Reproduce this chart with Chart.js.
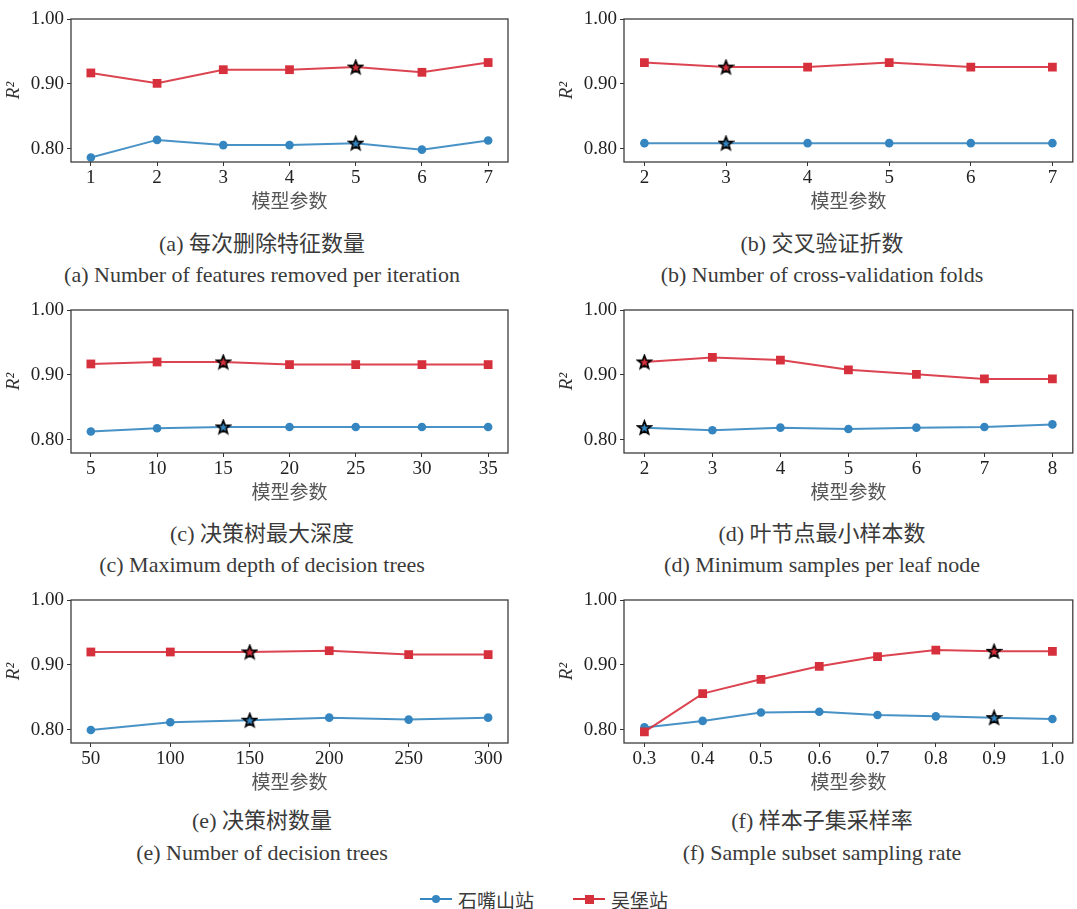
<!DOCTYPE html>
<html>
<head>
<meta charset="utf-8">
<script src="https://cdn.jsdelivr.net/npm/chart.js@4.4.1/dist/chart.umd.min.js"></script>
<style>
  html, body { margin: 0; padding: 0; width: 1077px; height: 909px; overflow: hidden; background: #fff; }
  body { position: relative; }
  canvas { position: absolute; }
  .cap { position: absolute; white-space: nowrap; transform: translate(-50%, -50%); color: #3a3a3a; }
  .zh { font-family: "Liberation Serif", "Noto Sans CJK SC", serif; font-size: 22px; }
  .en { font-family: "Liberation Serif", "Noto Sans CJK SC", serif; font-size: 22px; }
  .leg { position: absolute; }
  .legtext { position: absolute; font-family: "Noto Sans CJK SC", sans-serif; font-size: 19px; color: #3a3a3a; transform: translateY(-50%); white-space: nowrap; }
</style>
</head>
<body>
<script>
// Series names
const seriesNames = ['石嘴山站', '吴堡站'];
const xAxisTitle = '模型参数';
const yAxisTitle = 'R²';
const yTickValues = [0.80, 0.90, 1.00];

// (a) features removed per iteration
const paramsA = [1, 2, 3, 4, 5, 6, 7];
const shzsA   = [0.787, 0.814, 0.806, 0.806, 0.809, 0.799, 0.813];
const wubaoA  = [0.917, 0.901, 0.922, 0.922, 0.926, 0.918, 0.933];
const bestA = 5;

// (b) cross-validation folds
const paramsB = [2, 3, 4, 5, 6, 7];
const shzsB   = [0.809, 0.809, 0.809, 0.809, 0.809, 0.809];
const wubaoB  = [0.933, 0.926, 0.926, 0.933, 0.926, 0.926];
const bestB = 3;

// (c) max depth
const paramsC = [5, 10, 15, 20, 25, 30, 35];
const shzsC   = [0.813, 0.818, 0.820, 0.820, 0.820, 0.820, 0.820];
const wubaoC  = [0.917, 0.920, 0.920, 0.916, 0.916, 0.916, 0.916];
const bestC = 15;

// (d) min samples per leaf
const paramsD = [2, 3, 4, 5, 6, 7, 8];
const shzsD   = [0.819, 0.815, 0.819, 0.817, 0.819, 0.820, 0.824];
const wubaoD  = [0.920, 0.927, 0.923, 0.908, 0.901, 0.894, 0.894];
const bestD = 2;

// (e) number of trees
const paramsE = [50, 100, 150, 200, 250, 300];
const shzsE   = [0.800, 0.812, 0.815, 0.819, 0.816, 0.819];
const wubaoE  = [0.920, 0.920, 0.920, 0.922, 0.916, 0.916];
const bestE = 150;

// (f) subsample rate
const paramsF = [0.3, 0.4, 0.5, 0.6, 0.7, 0.8, 0.9, 1.0];
const shzsF   = [0.804, 0.814, 0.827, 0.828, 0.823, 0.821, 0.819, 0.817];
const wubaoF  = [0.797, 0.856, 0.878, 0.898, 0.913, 0.923, 0.921, 0.921];
const bestF = 0.9;

const captionsZh = ['(a) 每次删除特征数量', '(b) 交叉验证折数', '(c) 决策树最大深度',
                    '(d) 叶节点最小样本数', '(e) 决策树数量', '(f) 样本子集采样率'];
const captionsEn = ['(a) Number of features removed per iteration', '(b) Number of cross-validation folds',
                    '(c) Maximum depth of decision trees', '(d) Minimum samples per leaf node',
                    '(e) Number of decision trees', '(f) Sample subset sampling rate'];

const panels = [
  { x: paramsA, s1: shzsA, s2: wubaoA, best: bestA, dec: 0 },
  { x: paramsB, s1: shzsB, s2: wubaoB, best: bestB, dec: 0 },
  { x: paramsC, s1: shzsC, s2: wubaoC, best: bestC, dec: 0 },
  { x: paramsD, s1: shzsD, s2: wubaoD, best: bestD, dec: 0 },
  { x: paramsE, s1: shzsE, s2: wubaoE, best: bestE, dec: 0 },
  { x: paramsF, s1: shzsF, s2: wubaoF, best: bestF, dec: 1 }
];

// Styling
const BLUE = '#3586c0', BLUE_LINE = 'rgba(53,134,192,0.9)';
const RED = '#d7303d', RED_LINE = 'rgba(215,48,61,0.9)';
const SERIF = '"Liberation Serif", serif';
const CJK = '"Noto Sans CJK SC", sans-serif';

// Page geometry for the 3x2 grid
const colGeom = [
  { left: 0, width: 540, axisW: 71, padR: 32, capX: 262 },
  { left: 553, width: 526, axisW: 71, padR: 0, capX: 822 }
];
const rowTops = [0, 291, 581];
const PLOT_TOP = 19, PLOT_H = 143, XAXIS_H = 50;
const capZhY = [241, 531, 818];
const capEnY = [275, 565, 853];

function starImage(fill) {
  const c = document.createElement('canvas');
  c.width = 17; c.height = 17;
  const g = c.getContext('2d');
  g.beginPath();
  for (let i = 0; i < 10; i++) {
    const r = i % 2 ? 3.0 : 7.0;
    const a = -Math.PI / 2 + i * Math.PI / 5;
    g.lineTo(8.5 + r * Math.cos(a), 9 + r * Math.sin(a));
  }
  g.closePath();
  g.fillStyle = fill; g.fill();
  g.lineWidth = 1.7; g.strokeStyle = '#000'; g.lineJoin = 'miter'; g.stroke();
  return c;
}

const frame = {
  id: 'frame',
  afterDraw(chart) {
    const { ctx, chartArea: a } = chart;
    ctx.save();
    ctx.strokeStyle = '#3c3c3c';
    ctx.lineWidth = 1.3;
    ctx.strokeRect(a.left, a.top, a.right - a.left, a.bottom - a.top);
    ctx.restore();
  }
};

function makeChart(p, idx, starBlue, starRed) {
  const col = colGeom[idx % 2];
  const row = Math.floor(idx / 2);
  const h = PLOT_TOP + PLOT_H + XAXIS_H;
  const canvas = document.createElement('canvas');
  canvas.width = col.width; canvas.height = h;
  canvas.style.left = col.left + 'px';
  canvas.style.top = rowTops[row] + 'px';
  canvas.style.width = col.width + 'px';
  canvas.style.height = h + 'px';
  document.body.appendChild(canvas);

  const x0 = p.x[0], x1 = p.x[p.x.length - 1];
  const margin = 0.05 * (x1 - x0);
  const bestIdx = p.x.indexOf(p.best);

  new Chart(canvas, {
    type: 'line',
    data: {
      datasets: [
        {
          label: seriesNames[1],
          data: p.x.map((v, i) => ({ x: v, y: p.s2[i] })),
          borderColor: RED_LINE, borderWidth: 2,
          pointBackgroundColor: RED, pointBorderColor: RED, pointBorderWidth: 0,
          pointStyle: c => c.dataIndex === bestIdx ? starRed : 'rect',
          pointRadius: 6.2, tension: 0, order: 0
        },
        {
          label: seriesNames[0],
          data: p.x.map((v, i) => ({ x: v, y: p.s1[i] })),
          borderColor: BLUE_LINE, borderWidth: 2,
          pointBackgroundColor: BLUE, pointBorderColor: BLUE, pointBorderWidth: 0,
          pointStyle: c => c.dataIndex === bestIdx ? starBlue : 'circle',
          pointRadius: 4.3, tension: 0, order: 1
        }
      ]
    },
    options: {
      responsive: false, animation: false, events: [],
      layout: { padding: { top: PLOT_TOP, left: 0, right: col.padR, bottom: 0 } },
      plugins: { legend: { display: false }, tooltip: { enabled: false } },
      scales: {
        x: {
          type: 'linear', min: x0 - margin, max: x1 + margin,
          afterBuildTicks: s => { s.ticks = p.x.map(v => ({ value: v })); },
          afterFit: s => { s.height = XAXIS_H; },
          ticks: {
            autoSkip: false, maxRotation: 0, padding: 1, color: '#222',
            font: { family: SERIF, size: 19 },
            callback: v => Number(v).toFixed(p.dec)
          },
          grid: { drawOnChartArea: false, drawTicks: true, tickLength: 4, tickColor: '#333', tickWidth: 1 },
          border: { display: false },
          title: {
            display: true, text: xAxisTitle, color: '#555',
            font: { family: CJK, size: 19 }, padding: { top: 0, bottom: 0 }
          }
        },
        y: {
          type: 'linear', min: 0.78, max: 1.0,
          afterBuildTicks: s => { s.ticks = yTickValues.map(v => ({ value: v })); },
          afterFit: s => { s.width = col.axisW; },
          ticks: {
            autoSkip: false, padding: 3, color: '#222',
            font: { family: SERIF, size: 19 },
            callback: v => Number(v).toFixed(2)
          },
          grid: { drawOnChartArea: false, drawTicks: true, tickLength: 4, tickColor: '#333', tickWidth: 1 },
          border: { display: false },
          title: {
            display: true, text: yAxisTitle, color: '#333',
            font: { family: SERIF, size: 19, style: 'italic' }, padding: { top: 3, bottom: 0 }
          }
        }
      }
    },
    plugins: [frame]
  });

  const zh = document.createElement('div');
  zh.className = 'cap zh';
  zh.textContent = captionsZh[idx];
  zh.style.left = col.capX + 'px';
  zh.style.top = capZhY[row] + 'px';
  document.body.appendChild(zh);

  const en = document.createElement('div');
  en.className = 'cap en';
  en.textContent = captionsEn[idx];
  en.style.left = col.capX + 'px';
  en.style.top = capEnY[row] + 'px';
  document.body.appendChild(en);
}

// Legend below the grid
function legendEntry(x, color, marker, text) {
  const y = 899;
  const line = document.createElement('div');
  line.className = 'leg';
  Object.assign(line.style, { left: x + 'px', top: (y - 1) + 'px', width: '32px', height: '2px', background: color });
  document.body.appendChild(line);
  const m = document.createElement('div');
  m.className = 'leg';
  const size = marker === 'circle' ? 8 : 9;
  Object.assign(m.style, {
    left: (x + 16 - size / 2) + 'px', top: (y - size / 2) + 'px',
    width: size + 'px', height: size + 'px', background: color,
    borderRadius: marker === 'circle' ? '50%' : '0'
  });
  document.body.appendChild(m);
  const t = document.createElement('div');
  t.className = 'legtext';
  t.textContent = text;
  Object.assign(t.style, { left: (x + 38) + 'px', top: y + 'px' });
  document.body.appendChild(t);
}

function render() {
  const starBlue = starImage(BLUE);
  const starRed = starImage(RED);
  panels.forEach((p, i) => makeChart(p, i, starBlue, starRed));
  legendEntry(420, BLUE, 'circle', seriesNames[0]);
  legendEntry(573, RED, 'rect', seriesNames[1]);
}

Promise.all([
  document.fonts.load('19px "Liberation Serif"'),
  document.fonts.load('italic 19px "Liberation Serif"'),
  document.fonts.load('19px "Noto Sans CJK SC"', '模型参数')
]).then(render, render);
</script>
</body>
</html>
